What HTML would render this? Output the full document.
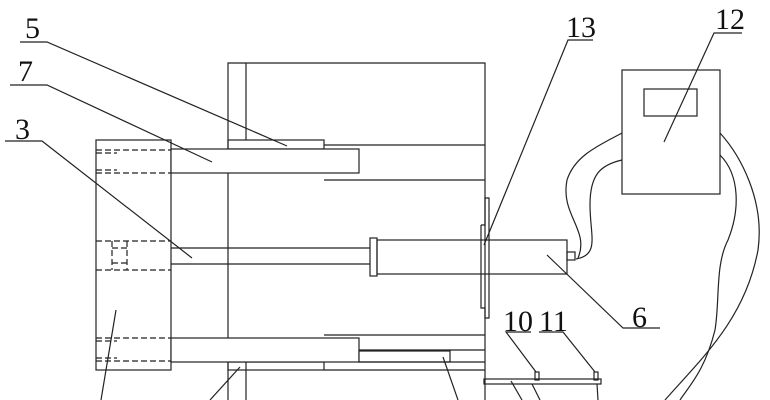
<!DOCTYPE html>
<html><head><style>html,body{margin:0;padding:0;background:#fff}svg{display:block}text{font-family:"Liberation Serif",serif;font-size:30px;fill:#111}</style></head>
<body>
<svg width="770" height="400" viewBox="0 0 770 400" xmlns="http://www.w3.org/2000/svg">
<g fill="none" stroke="#222" stroke-width="1.2">
<polyline points="228,400 228,63 485,63 485,400"/>
<line x1="246" y1="63" x2="246" y2="140"/>
<line x1="246" y1="362" x2="246" y2="400"/>
<rect x="96" y="140" width="75" height="230"/>
<rect x="228" y="140" width="96" height="9"/>
<rect x="228" y="362" width="96" height="8"/>
<line x1="324" y1="145" x2="485" y2="145"/>
<line x1="324" y1="180" x2="485" y2="180"/>
<line x1="324" y1="335" x2="485" y2="335"/>
<line x1="324" y1="370" x2="485" y2="370"/>
<rect x="171" y="149" width="188" height="24" fill="#fff"/>
<rect x="171" y="338" width="188" height="24" fill="#fff"/>
<line x1="359" y1="350" x2="485" y2="350"/>
<rect x="359" y="351" width="91" height="11" fill="#fff"/>
<line x1="359" y1="362" x2="485" y2="362"/>
<line x1="171" y1="248" x2="370" y2="248"/>
<line x1="171" y1="264" x2="370" y2="264"/>
<rect x="370" y="238" width="7" height="38"/>
<rect x="377" y="240" width="190" height="34"/>
<rect x="567" y="252" width="8" height="8"/>
<polyline points="481,225 481,308 485,308 485,318 489,318 489,198 485,198 485,225 481,225"/>
<g stroke-dasharray="6,3">
<line x1="96" y1="150" x2="171" y2="150"/><line x1="96" y1="173" x2="171" y2="173"/>
<line x1="96" y1="153" x2="117" y2="153"/><line x1="96" y1="170" x2="117" y2="170"/>
<line x1="96" y1="241" x2="171" y2="241"/><line x1="96" y1="270" x2="171" y2="270"/>
<line x1="112" y1="241" x2="112" y2="270"/><line x1="127" y1="241" x2="127" y2="270"/>
<line x1="112" y1="248" x2="127" y2="248"/><line x1="112" y1="263" x2="127" y2="263"/>
<line x1="96" y1="338" x2="171" y2="338"/><line x1="96" y1="361" x2="171" y2="361"/>
<line x1="96" y1="341" x2="117" y2="341"/><line x1="96" y1="358" x2="117" y2="358"/>
</g>
<rect x="622" y="70" width="98" height="124"/>
<rect x="644" y="89" width="53" height="27"/>
<rect x="484" y="379" width="117" height="5"/>
<rect x="535" y="372" width="4" height="8"/><rect x="594" y="372" width="4" height="8"/>
<path d="M622,133 C600,145 575,155 567,180 C560,215 590,230 578,258"/>
<path d="M622,160 C600,165 590,175 590,205 C590,235 600,255 576,259"/>
<path d="M720,133 C740,155 765,200 758,250 C745,320 700,360 665,400"/>
<path d="M720,155 C740,175 740,210 728,240 C715,265 720,300 715,330 C705,370 690,385 680,400"/>
<polyline points="20,42 47,42 287,146"/>
<polyline points="10,85 47,85 212,162"/>
<polyline points="5,141 42,141 192,258"/>
<line x1="116" y1="310" x2="101" y2="400"/>
<line x1="240" y1="367" x2="210" y2="400"/>
<line x1="443" y1="357" x2="458" y2="400"/>
<polyline points="593,40 568,40 484,245"/>
<polyline points="742,33 714,33 664,142"/>
<polyline points="660,328 623,328 547,255"/>
<polyline points="531,332 506,332 536,372"/>
<polyline points="539,332 563,332 595,372"/>
<line x1="511" y1="381" x2="522" y2="400"/>
<line x1="532" y1="384" x2="540" y2="400"/>
<line x1="597" y1="384" x2="598" y2="400"/>
</g>
<text x="25" y="38">5</text>
<text x="18" y="81">7</text>
<text x="15" y="139">3</text>
<text x="566" y="37">13</text>
<text x="715" y="29">12</text>
<text x="632" y="327">6</text>
<text x="503" y="331">10</text>
<text x="539" y="331">11</text>
</svg>
</body></html>
